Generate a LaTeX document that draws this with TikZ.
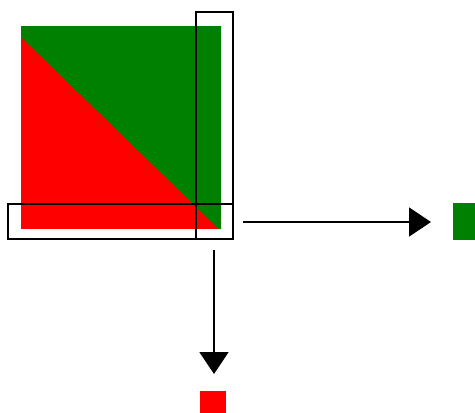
\documentclass[tikz,border=0pt]{standalone}
\usetikzlibrary{arrows.meta}
\definecolor{dgreen}{RGB}{0,128,0}
\definecolor{bred}{RGB}{255,0,0}
\begin{document}
\begin{tikzpicture}[x=1pt,y=-1pt,
  selbox/.style={draw=black,line width=1.6pt},
  flow/.style={draw=black,line width=1.6pt,-{Triangle[length=22pt,width=29pt]}}]
\useasboundingbox (0,0) rectangle (475,413);
% big square
\fill[bred] (21,26) rectangle (221,229);
\fill[dgreen] (21,26) -- (221,26) -- (221,229) -- (219,229) -- (21,37) -- cycle;
% selection boxes
\draw[selbox] (196,12) rectangle (233,239);
\draw[selbox] (8,204) rectangle (233,239);
% arrows
\coordinate (hs) at (243,222);
\coordinate (he) at (431,222);
\coordinate (vs) at (214,250);
\coordinate (ve) at (214,374);
\draw[flow] (hs) -- (he);
\draw[flow] (vs) -- (ve);
% result squares
\fill[dgreen] (453,203) rectangle (475,240);
\fill[bred] (200,391) rectangle (226,413);
\end{tikzpicture}
\end{document}
